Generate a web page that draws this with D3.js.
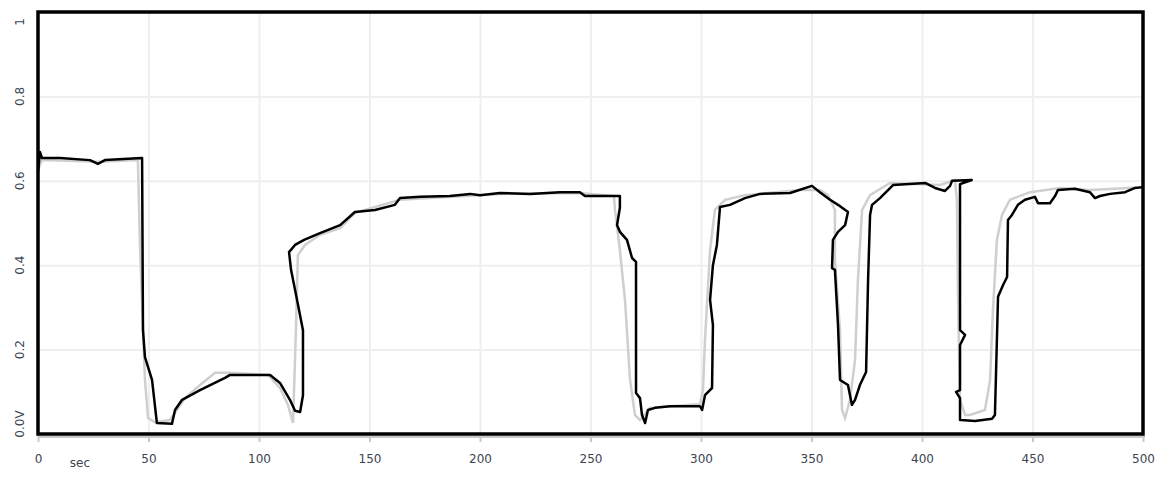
<!DOCTYPE html>
<html lang="en">
<head>
    <meta charset="UTF-8">
    <title>Voltage vs time</title>
    <script src="https://d3js.org/d3.v7.min.js"></script>
    <style>
        body { margin: 0; background: #fff; }
        svg text { font-family: "DejaVu Sans", Arial, sans-serif; }
    </style>
</head>
<body>
    <svg id="chart" width="1170" height="477"></svg>

    <script>
        // Tick values
        const xTicks = [0, 50, 100, 150, 200, 250, 300, 350, 400, 450, 500];
        const yTicks = [0, 0.2, 0.4, 0.6, 0.8, 1];

        // Black trace: time (sec) and voltage
        const blackT = [0, 0.9, 1.8, 10, 23.5, 27.1, 30.3, 47.1, 47.5, 48.4, 51.6, 53.8, 60.6, 62.0, 65.2, 73.3,
            84.6, 86.9, 105.0, 109.5, 114.0, 116.3, 118.6, 119.9, 119.9, 119.9, 117.2, 114.5, 113.6, 116.3, 120.4,
            127.6, 136.7, 143.4, 152.5, 161.5, 163.8, 172.9, 186.4, 195.5, 200, 209, 222.6, 236.2, 245.2, 247.5,
            263.3, 263.3, 262.0, 263.3, 266.5, 268.8, 270.6, 270.6, 272.4, 273.3, 274.7, 276.0, 279.2, 286.0,
            299.5, 300.5, 301.8, 305.0, 305.4, 304.1, 305.4, 307.2, 308.6, 313.1, 319.9, 326.7, 340.3, 350.2,
            353.8, 358.4, 362.0, 366.5, 365.2, 362.0, 359.7, 359.3, 360.6, 362.0, 362.9, 366.5, 368.3, 369.7,
            371.9, 374.7, 375.6, 376.5, 377.4, 381.0, 386.9, 401.4, 405.9, 410.4, 412.7, 413.6, 422.5, 417.2,
            417.2, 419.5, 417.2, 417.2, 415.4, 417.2, 417.2, 417.6, 424.0, 431.7, 433.0, 434.4, 436.7, 438.5,
            438.9, 440.7, 443.4, 446.6, 451.1, 452.5, 457.9, 460.2, 461.5, 469.2, 476.0, 478.3, 480.5, 485.1,
            491.9, 496.4, 500];
        const blackV = [0.621, 0.668, 0.654, 0.654, 0.649, 0.640, 0.649, 0.654, 0.246, 0.182, 0.128, 0.026, 0.024,
            0.057, 0.081, 0.104, 0.133, 0.140, 0.140, 0.121, 0.081, 0.055, 0.052, 0.092, 0.187, 0.246, 0.318,
            0.389, 0.431, 0.448, 0.460, 0.476, 0.495, 0.526, 0.531, 0.543, 0.559, 0.562, 0.564, 0.569, 0.566,
            0.571, 0.569, 0.573, 0.573, 0.564, 0.564, 0.536, 0.495, 0.479, 0.460, 0.417, 0.408, 0.097, 0.085,
            0.045, 0.026, 0.057, 0.062, 0.066, 0.066, 0.057, 0.092, 0.109, 0.258, 0.318, 0.400, 0.448, 0.538,
            0.543, 0.559, 0.569, 0.571, 0.588, 0.573, 0.555, 0.543, 0.526, 0.495, 0.479, 0.460, 0.393, 0.389,
            0.258, 0.128, 0.116, 0.069, 0.081, 0.116, 0.147, 0.365, 0.519, 0.543, 0.559, 0.590, 0.595, 0.583,
            0.576, 0.588, 0.600, 0.602, 0.592, 0.246, 0.235, 0.211, 0.104, 0.100, 0.085, 0.033, 0.033, 0.031,
            0.036, 0.045, 0.325, 0.353, 0.372, 0.507, 0.519, 0.543, 0.555, 0.562, 0.547, 0.547, 0.564, 0.578,
            0.581, 0.573, 0.559, 0.564, 0.569, 0.573, 0.583, 0.585];

        // Grey trace: time (sec) and voltage
        const greyT = [0, 1.8, 28, 45.2, 46.2, 48.4, 49.8, 52.9, 59.7, 66.5, 73.3, 80.1, 86.9, 104.1, 109.5, 113.1,
            115.4, 116.7, 117.6, 120.8, 127.6, 136.7, 143.4, 163.8, 209, 244.3, 260.6, 261.1, 263.3, 265.6,
            267.9, 270.1, 272.4, 276.9, 299.5, 300.9, 301.8, 304.1, 306.3, 310.9, 319.9, 344.8, 353.8, 357.5,
            360.6, 360.6, 362.9, 363.8, 365.2, 367.4, 369.7, 371.0, 372.9, 376.5, 385.5, 408.1, 414.9, 415.8,
            416.3, 417.2, 419.5, 421.7, 428.5, 430.8, 432.1, 433.9, 436.2, 439.8, 448.9, 462.4, 476.0, 500];
        const greyV = [0.626, 0.649, 0.645, 0.649, 0.436, 0.128, 0.038, 0.028, 0.033, 0.085, 0.116, 0.145, 0.145,
            0.140, 0.109, 0.069, 0.026, 0.246, 0.424, 0.448, 0.472, 0.488, 0.524, 0.555, 0.569, 0.571, 0.564,
            0.531, 0.436, 0.318, 0.128, 0.045, 0.033, 0.062, 0.071, 0.104, 0.223, 0.436, 0.531, 0.555, 0.566,
            0.578, 0.578, 0.566, 0.531, 0.412, 0.246, 0.057, 0.038, 0.081, 0.175, 0.365, 0.531, 0.566, 0.595,
            0.590, 0.602, 0.555, 0.318, 0.081, 0.045, 0.045, 0.057, 0.128, 0.294, 0.460, 0.519, 0.555, 0.573,
            0.583, 0.578, 0.585];

        const plotLeft = 38, plotRight = 1143, plotTop = 12, plotBottom = 434;

        const svg = d3.select("#chart");

        const x = d3.scaleLinear().domain([0, 500]).range([plotLeft, plotRight]);
        const y = d3.scaleLinear().domain([0, 1]).range([plotBottom, plotTop]);

        // Grid
        svg.append("g")
           .attr("transform", `translate(0,${plotBottom})`)
           .call(d3.axisBottom(x).tickValues(xTicks).tickSize(-(plotBottom - plotTop)).tickFormat(""))
           .call(g => g.select(".domain").remove())
           .selectAll("line")
           .attr("stroke", "#efefef")
           .attr("stroke-width", 2);

        svg.append("g")
           .attr("transform", `translate(${plotLeft},0)`)
           .call(d3.axisLeft(y).tickValues(yTicks).tickSize(-(plotRight - plotLeft)).tickFormat(""))
           .call(g => g.select(".domain").remove())
           .selectAll("line")
           .attr("stroke", "#efefef")
           .attr("stroke-width", 2);

        // Grey line under the bottom border
        svg.append("line")
           .attr("x1", plotLeft).attr("x2", plotRight + 2)
           .attr("y1", plotBottom + 3).attr("y2", plotBottom + 3)
           .attr("stroke", "#c8c8c8").attr("stroke-width", 2);

        // X axis ticks + labels
        const xAxis = svg.append("g")
           .attr("transform", `translate(0,${plotBottom})`)
           .call(d3.axisBottom(x).tickValues(xTicks).tickSize(8).tickPadding(12));
        xAxis.select(".domain").remove();
        xAxis.selectAll("line").attr("stroke", "#c8c8c8").attr("stroke-width", 2);
        xAxis.selectAll("text").attr("fill", "#3c4450").attr("font-size", "12px");

        svg.append("text")
           .attr("x", x(19))
           .attr("y", 467)
           .attr("text-anchor", "middle")
           .attr("font-size", "12px")
           .attr("fill", "#3c4450")
           .text("sec");

        // Y labels, rotated
        const yLabel = d => d === 0 ? "0.0V" : d === 1 ? "1" : d3.format(".1f")(d);
        const yShift = d => d === 0 ? -10 : d === 1 ? 10 : 0;
        svg.append("g")
           .selectAll("text")
           .data(yTicks)
           .join("text")
           .attr("transform", d => `translate(24,${y(d) + yShift(d)}) rotate(-90)`)
           .attr("text-anchor", "middle")
           .attr("font-size", "12px")
           .attr("fill", "#3c4450")
           .text(yLabel);

        // Traces
        const greyData = greyT.map((t, i) => [t, greyV[i]]);
        const blackData = blackT.map((t, i) => [t, blackV[i]]);
        const line = d3.line().x(d => x(d[0])).y(d => y(d[1]));

        svg.append("path")
           .datum(greyData)
           .attr("fill", "none")
           .attr("stroke", "#cfcfcf")
           .attr("stroke-width", 2.5)
           .attr("d", line);

        svg.append("path")
           .datum(blackData)
           .attr("fill", "none")
           .attr("stroke", "#000")
           .attr("stroke-width", 2.5)
           .attr("stroke-linejoin", "round")
           .attr("d", line);

        // Plot frame
        svg.append("rect")
           .attr("x", plotLeft)
           .attr("y", plotTop)
           .attr("width", plotRight - plotLeft)
           .attr("height", plotBottom - plotTop)
           .attr("fill", "none")
           .attr("stroke", "#000")
           .attr("stroke-width", 3.5);
    </script>
</body>
</html>
